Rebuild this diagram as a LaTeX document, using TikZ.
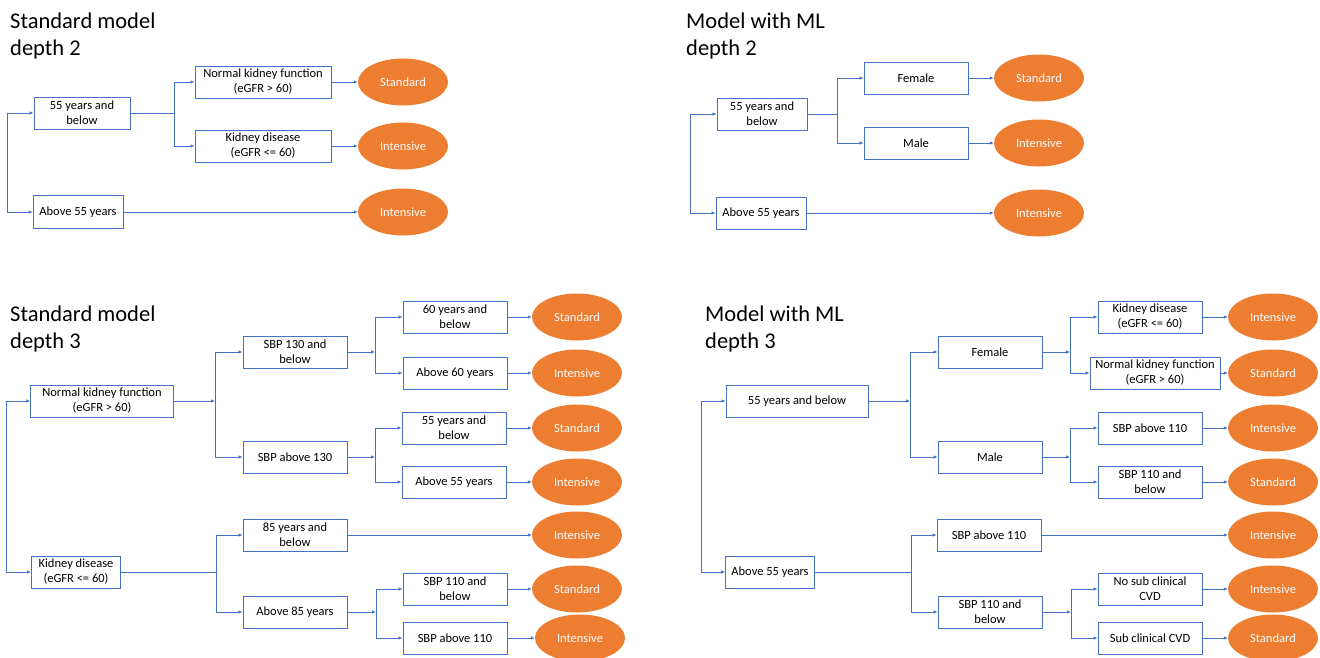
\documentclass[tikz,border=0pt]{standalone}
\usepackage{fontspec}
\setmainfont{Carlito}
\usetikzlibrary{positioning, arrows.meta, shapes.geometric}
\definecolor{treeblue}{HTML}{4472C4}
\definecolor{treeorange}{HTML}{ED7D31}
\tikzset{
  box/.style={draw=treeblue, line width=0.8pt, fill=white, align=center,
    minimum height=32pt, minimum width=104pt, inner sep=1pt, font=\fontsize{12.5}{15}\selectfont},
  leaf/.style={ellipse, fill=treeorange, text=white, minimum width=90pt,
    minimum height=47pt, inner sep=0pt, font=\fontsize{12.5}{15}\selectfont},
  title/.style={anchor=north west, align=left, inner sep=0pt, font=\fontsize{22.5}{27}\selectfont},
  ln/.style={draw=treeblue, line width=0.7pt},
  arr/.style={ln, -{Latex[length=4pt,width=3.5pt]}},
}

\begin{document}
\begin{tikzpicture}[x=1pt, y=-1pt]
    \useasboundingbox (0,0) rectangle (1320,657);

    % standard model, depth 2
    \node[title] (ta) at (10,13) {Standard model\\depth 2};
    \node[box, minimum width=96pt] (a1) at (82,113) {55 years and\\below};
    \node[box, minimum width=136pt] (a2) at (263,82) {Normal kidney function\\(eGFR > 60)};
    \node[box, minimum width=136pt] (a3) at (263,146) {Kidney disease\\(eGFR <= 60)};
    \node[box, minimum width=90pt, minimum height=33pt] (a4) at (78,212) {Above 55 years};
    \node[leaf] (a5) at (403,82) {Standard};
    \node[leaf] (a6) at (403,146) {Intensive};
    \node[leaf] (a7) at (403,212) {Intensive};
    \coordinate (ar) at (7,162);
    \coordinate (aj) at (174,113);
    \draw[arr] (ar) |- (a1);
    \draw[arr] (ar) |- (a4);
    \draw[ln] (a1) -- (aj);
    \draw[arr] (aj) |- (a2);
    \draw[arr] (aj) |- (a3);

    % model with ML, depth 2
    \node[title] (tb) at (686,13) {Model with ML\\depth 2};
    \node[box, minimum width=90pt] (b1) at (762,114) {55 years and\\below};
    \node[box] (b2) at (916,78) {Female};
    \node[box] (b3) at (916,143) {Male};
    \node[box, minimum width=90pt] (b4) at (761,213) {Above 55 years};
    \node[leaf] (b5) at (1039,78) {Standard};
    \node[leaf] (b6) at (1039,143) {Intensive};
    \node[leaf] (b7) at (1039,213) {Intensive};
    \coordinate (br) at (690,164);
    \coordinate (bj) at (837,114);
    \draw[arr] (br) |- (b1);
    \draw[arr] (br) |- (b4);
    \draw[ln] (b1) -- (bj);
    \draw[arr] (bj) |- (b2);
    \draw[arr] (bj) |- (b3);

    % standard model, depth 3
    \node[title] (tc) at (10,306) {Standard model\\depth 3};
    \node[box, minimum width=143pt] (c1) at (102,401) {Normal kidney function\\(eGFR > 60)};
    \node[box, minimum width=89pt] (c2) at (76,572) {Kidney disease\\(eGFR <= 60)};
    \node[box] (c3) at (295,352) {SBP 130 and\\below};
    \node[box] (c4) at (295,457) {SBP above 130};
    \node[box] (c5) at (455,317) {60 years and\\below};
    \node[box] (c6) at (455,373) {Above 60 years};
    \node[box] (c7) at (454,428) {55 years and\\below};
    \node[box] (c8) at (454,482) {Above 55 years};
    \node[box] (c9) at (295,535) {85 years and\\below};
    \node[box] (c10) at (295,612) {Above 85 years};
    \node[box] (c11) at (455,589) {SBP 110 and\\below};
    \node[box] (c12) at (455,638) {SBP above 110};
    \node[leaf] (c13) at (577,317) {Standard};
    \node[leaf] (c14) at (577,373) {Intensive};
    \node[leaf] (c15) at (577,428) {Standard};
    \node[leaf] (c16) at (577,482) {Intensive};
    \node[leaf] (c17) at (577,535) {Intensive};
    \node[leaf] (c18) at (577,589) {Standard};
    \node[leaf] (c19) at (580,638) {Intensive};
    \coordinate (cr) at (6,486);
    \coordinate (cj1) at (215,401);
    \coordinate (cj2) at (375,352);
    \coordinate (cj3) at (375,457);
    \coordinate (cj4) at (216,572);
    \coordinate (cj5) at (376,612);
    \draw[arr] (cr) |- (c1);
    \draw[arr] (cr) |- (c2);
    \draw[arr] (c1) -- (cj1);
    \draw[arr] (cj1) |- (c3);
    \draw[arr] (cj1) |- (c4);
    \draw[arr] (c3) -- (cj2);
    \draw[arr] (cj2) |- (c5);
    \draw[arr] (cj2) |- (c6);
    \draw[arr] (c4) -- (cj3);
    \draw[arr] (cj3) |- (c7);
    \draw[arr] (cj3) |- (c8);
    \draw[ln] (c2) -- (cj4);
    \draw[arr] (cj4) |- (c9);
    \draw[arr] (cj4) |- (c10);
    \draw[arr] (c10) -- (cj5);
    \draw[arr] (cj5) |- (c11);
    \draw[arr] (cj5) |- (c12);

    % model with ML, depth 3
    \node[title] (td) at (705,306) {Model with ML\\depth 3};
    \node[box, minimum width=142pt] (d1) at (797,401) {55 years and below};
    \node[box, minimum width=89pt] (d2) at (770,572) {Above 55 years};
    \node[box] (d3) at (990,352) {Female};
    \node[box] (d4) at (990,457) {Male};
    \node[box] (d5) at (1150,317) {Kidney disease\\(eGFR <= 60)};
    \node[box, minimum width=130pt] (d6) at (1155,373) {Normal kidney function\\(eGFR > 60)};
    \node[box] (d7) at (1150,428) {SBP above 110};
    \node[box] (d8) at (1150,482) {SBP 110 and\\below};
    \node[box] (d9) at (989,535) {SBP above 110};
    \node[box] (d10) at (990,612) {SBP 110 and\\below};
    \node[box] (d11) at (1150,589) {No sub clinical\\CVD};
    \node[box] (d12) at (1150,638) {Sub clinical CVD};
    \node[leaf] (d13) at (1273,317) {Intensive};
    \node[leaf] (d14) at (1273,373) {Standard};
    \node[leaf] (d15) at (1273,428) {Intensive};
    \node[leaf] (d16) at (1273,482) {Standard};
    \node[leaf] (d17) at (1273,535) {Intensive};
    \node[leaf] (d18) at (1273,589) {Intensive};
    \node[leaf] (d19) at (1273,638) {Standard};
    \coordinate (dr) at (701,486);
    \coordinate (dj1) at (910,401);
    \coordinate (dj2) at (1070,352);
    \coordinate (dj3) at (1070,457);
    \coordinate (dj4) at (911,572);
    \coordinate (dj5) at (1071,612);
    \draw[arr] (dr) |- (d1);
    \draw[arr] (dr) |- (d2);
    \draw[arr] (d1) -- (dj1);
    \draw[arr] (dj1) |- (d3);
    \draw[arr] (dj1) |- (d4);
    \draw[arr] (d3) -- (dj2);
    \draw[arr] (dj2) |- (d5);
    \draw[arr] (dj2) |- (d6);
    \draw[arr] (d4) -- (dj3);
    \draw[arr] (dj3) |- (d7);
    \draw[arr] (dj3) |- (d8);
    \draw[ln] (d2) -- (dj4);
    \draw[arr] (dj4) |- (d9);
    \draw[arr] (dj4) |- (d10);
    \draw[arr] (d10) -- (dj5);
    \draw[arr] (dj5) |- (d11);
    \draw[arr] (dj5) |- (d12);

    % branches into the outcomes
    \foreach \from/\to in {a2/a5, a3/a6, a4/a7, b2/b5, b3/b6, b4/b7,
        c5/c13, c6/c14, c7/c15, c8/c16, c9/c17, c11/c18, c12/c19,
        d5/d13, d6/d14, d7/d15, d8/d16, d9/d17, d11/d18, d12/d19}
        \draw[arr] (\from) -- (\to);
\end{tikzpicture}
\end{document}
